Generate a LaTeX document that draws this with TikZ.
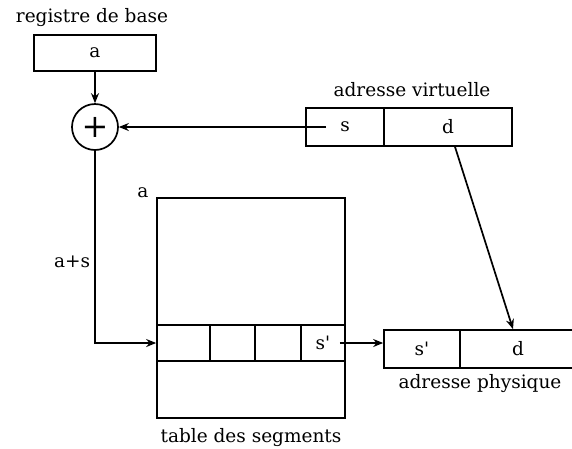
\documentclass[tikz,border=0pt]{standalone}
\usepackage{fontspec}
\setmainfont{DejaVu Serif}
\usetikzlibrary{arrows.meta}

\tikzset{
  cell/.style={draw, line width=1.7pt, inner sep=0pt, minimum height=#1},
  cell/.default=38pt,
  arr/.style={-{Stealth[length=10pt,width=8pt]}, line width=1.7pt},
  lbl/.style={inner sep=1pt}
}

\begin{document}
\begin{tikzpicture}[x=1pt,y=-1pt,font=\fontsize{18.5}{22}\selectfont]
  \useasboundingbox (0,0) rectangle (572,448);
  % base register and adder
  \node[lbl] (reglbl) at (92,18) {registre de base};
  \node[cell=36pt, minimum width=122pt] (reg) at (95,53) {a};
  \node[circle, draw, line width=1.7pt, minimum size=46pt, inner sep=0pt,
        font=\fontsize{32}{32}\selectfont] (plus) at (95,127) {+};
  % virtual address
  \node[cell, minimum width=78pt] (vs) at (345,127) {s};
  \node[cell, minimum width=128pt] (vd) at (448,127) {d};
  \node[lbl] (vlbl) at (412,90) {adresse virtuelle};
  % segment table
  \node[draw, line width=1.7pt, minimum width=188pt, minimum height=220pt] (tab) at (251,308) {};
  \node[cell=36pt, minimum width=53pt] (c1) at (183.5,343) {};
  \node[cell=36pt, minimum width=45pt] (c2) at (232.5,343) {};
  \node[cell=36pt, minimum width=46pt] (c3) at (278,343) {};
  \node[cell=36pt, minimum width=44pt] (c4) at (323,343) {s\textquotesingle};
  \node[lbl] (alab) at (143,193) {a};
  \node[lbl] (tlbl) at (251,438) {table des segments};
  % physical address
  \node[cell, minimum width=76pt] (ps) at (422,349) {s\textquotesingle};
  \node[cell, minimum width=116pt] (pd) at (518,349) {d};
  \node[lbl] (plbl) at (480,384) {adresse physique};
  % arrows
  \draw[arr] (reg.south) -- (plus.north);
  \draw[arr] ([xshift=21pt]vs.west) -- (plus.east);
  \draw[arr] (plus.south) |- (c1.west) node[lbl, pos=0.29, left=3pt] {a+s};
  \draw[arr] ([xshift=-6pt]c4.east) -- (c4 -| ps.west);
  \draw[arr] ([xshift=7pt]vd.south) -- ([xshift=-5pt]pd.north);
\end{tikzpicture}
\end{document}
